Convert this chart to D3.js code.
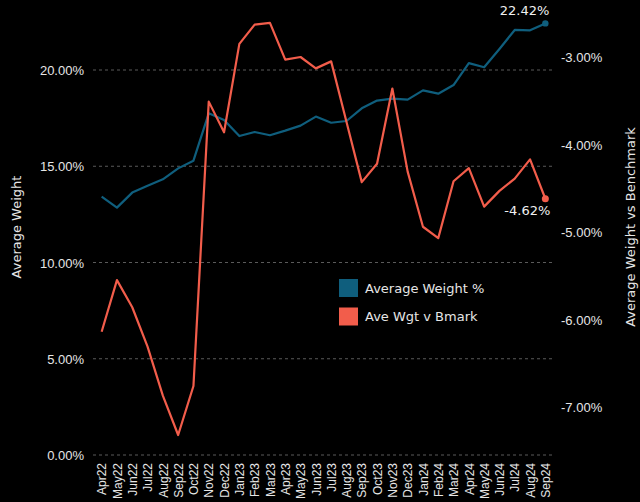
<!DOCTYPE html>
<html><head><meta charset="utf-8">
<script src="https://cdn.jsdelivr.net/npm/d3@7"></script>
<style>
html,body{margin:0;padding:0;background:#000;}
svg{display:block;font-family:"DejaVu Sans",Verdana,sans-serif;}
</style></head>
<body><svg id="c" width="640" height="502"></svg>
<script>
const months = ["Apr22","May22","Jun22","Jul22","Aug22","Sep22","Oct22","Nov22","Dec22","Jan23","Feb23","Mar23","Apr23","May23","Jun23","Jul23","Aug23","Sep23","Oct23","Nov23","Dec23","Jan24","Feb24","Mar24","Apr24","May24","Jun24","Jul24","Aug24","Sep24"];
const avgWeight = [13.42,12.85,13.63,13.99,14.32,14.89,15.29,17.75,17.40,16.57,16.78,16.61,16.85,17.11,17.58,17.26,17.35,18.01,18.41,18.51,18.46,18.94,18.77,19.22,20.36,20.14,21.09,22.08,22.06,22.42];
const aveVsBmark = [-6.14,-5.55,-5.86,-6.31,-6.87,-7.32,-6.76,-3.51,-3.86,-2.85,-2.63,-2.61,-3.03,-3.00,-3.13,-3.05,-3.74,-4.43,-4.22,-3.36,-4.31,-4.94,-5.07,-4.42,-4.27,-4.71,-4.53,-4.39,-4.17,-4.62];
const leftTicks = [0,5,10,15,20];
const rightTicks = [-7,-6,-5,-4,-3];
const seriesNames = ["Average Weight %","Ave Wgt v Bmark"];
const colors = ["#0f5e7d","#f25d4b"];

const svg = d3.select("#c");
const pTop = 17, pBottom = 455, pLeft = 94, pRight = 553;
const x = d3.scalePoint().domain(months).range([pLeft, pRight]).padding(0.5);
const yL = d3.scaleLinear().domain([0, (pBottom-pTop)/19.25]).range([pBottom, pTop]);
const yR = d3.scaleLinear().domain([-3 - (pBottom-57)/87.5, -3 + (57-pTop)/87.5]).range([pBottom, pTop]);
const fmt = d => d.toFixed(2) + "%";

// gridlines
svg.append("g").selectAll("line").data(leftTicks).join("line")
  .attr("x1", 93).attr("x2", 552)
  .attr("y1", d => yL(d)).attr("y2", d => yL(d))
  .attr("stroke", "#5a5a5a").attr("stroke-dasharray", "3,3").attr("stroke-width", 1);

// left axis
const gl = svg.append("g").attr("transform", `translate(${pLeft-10},0)`)
  .call(d3.axisLeft(yL).tickValues(leftTicks).tickFormat(fmt).tickSize(0).tickPadding(0));
gl.select(".domain").remove();
gl.selectAll("text").attr("fill", "#e6e6e6").style("font-size", "13px").attr("dy", "0.35em");

// right axis
const gr = svg.append("g").attr("transform", `translate(561,0)`)
  .call(d3.axisRight(yR).tickValues(rightTicks).tickFormat(fmt).tickSize(0).tickPadding(0));
gr.select(".domain").remove();
gr.selectAll("text").attr("fill", "#e6e6e6").style("font-size", "13px").attr("dy", "0.35em");

// x axis
const gx = svg.append("g").attr("transform", `translate(0,463)`)
  .call(d3.axisBottom(x).tickSize(0).tickPadding(0));
gx.select(".domain").remove();
gx.selectAll("text").attr("fill", "#e6e6e6").style("font-size", "12px")
  .attr("text-anchor", "end").attr("transform", "rotate(-90)").attr("x", 0).attr("y", 0).attr("dy", "0.35em");

// axis titles
svg.append("text").attr("transform", "translate(16,227) rotate(-90)").attr("text-anchor", "middle")
  .attr("dy", "0.35em").attr("fill", "#e6e6e6").style("font-size", "13px").text("Average Weight");
svg.append("text").attr("transform", "translate(630,227) rotate(-90)").attr("text-anchor", "middle")
  .attr("dy", "0.35em").attr("fill", "#e6e6e6").style("font-size", "13px").text("Average Weight vs Benchmark");

// lines
const lineL = d3.line().x((d,i) => x(months[i])).y(d => yL(d));
const lineR = d3.line().x((d,i) => x(months[i])).y(d => yR(d));
svg.append("path").datum(avgWeight).attr("d", lineL).attr("fill", "none")
  .attr("stroke", colors[0]).attr("stroke-width", 2.2).attr("stroke-linejoin", "round");
svg.append("path").datum(aveVsBmark).attr("d", lineR).attr("fill", "none")
  .attr("stroke", colors[1]).attr("stroke-width", 2.2).attr("stroke-linejoin", "round");

// end points and labels
const last = months.length - 1;
svg.append("circle").attr("cx", x(months[last])).attr("cy", yL(avgWeight[last])).attr("r", 3.2).attr("fill", colors[0]);
svg.append("circle").attr("cx", x(months[last])).attr("cy", yR(aveVsBmark[last])).attr("r", 3.5).attr("fill", colors[1]);
svg.append("text").attr("x", x(months[last]) + 4).attr("y", yL(avgWeight[last]) - 8)
  .attr("text-anchor", "end").attr("fill", "#f0f0f0").style("font-size", "13px").text(fmt(avgWeight[last]));
svg.append("text").attr("x", x(months[last]) + 5).attr("y", yR(aveVsBmark[last]) + 16)
  .attr("text-anchor", "end").attr("fill", "#f0f0f0").style("font-size", "13px").text(fmt(aveVsBmark[last]));

// legend
const lg = svg.append("g").attr("transform", "translate(339,279)");
seriesNames.forEach((n, i) => {
  lg.append("rect").attr("x", 0).attr("y", i*28.5).attr("width", 19).attr("height", 18).attr("fill", colors[i]);
  lg.append("text").attr("x", 26).attr("y", i*28.5 + 9).attr("dy", "0.35em")
    .attr("fill", "#e6e6e6").style("font-size", "13px").text(n);
});
</script></body></html>
